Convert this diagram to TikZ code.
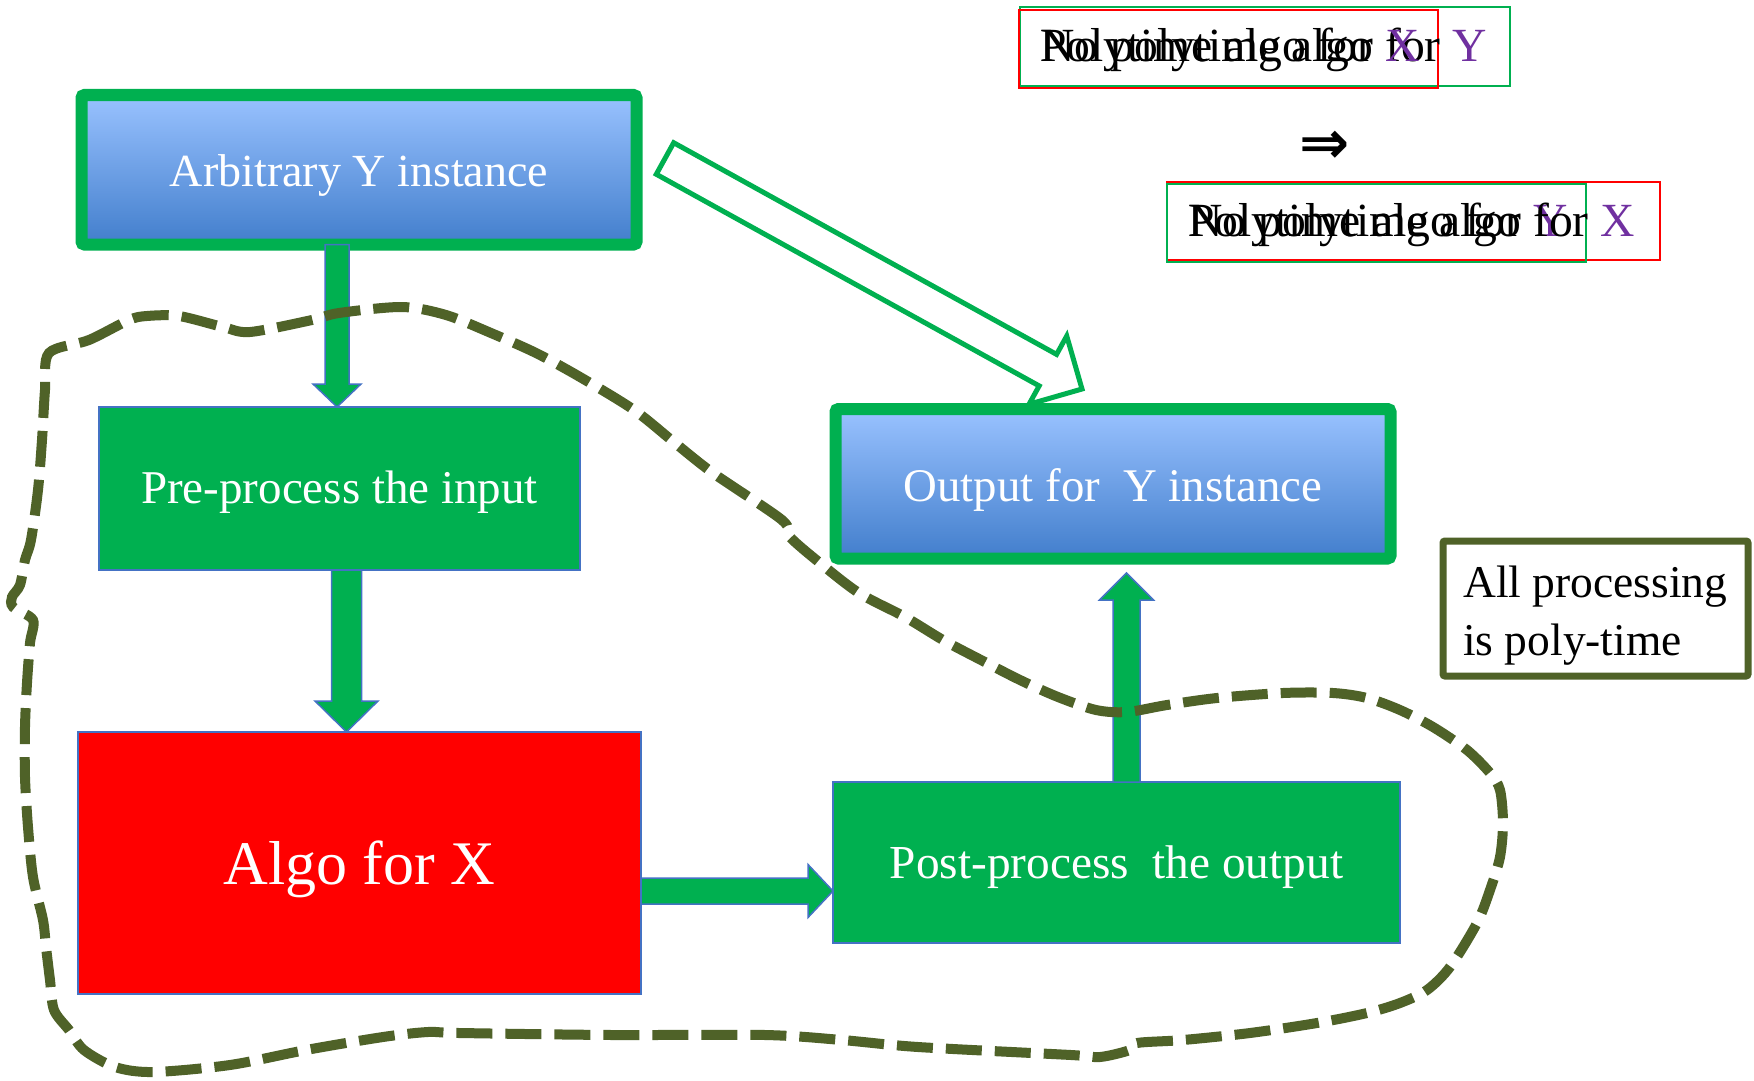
\documentclass[tikz,border=0pt]{standalone}
\usepackage{fontspec}
\setmainfont{Liberation Serif}
\newfontfamily\djv{DejaVu Sans}
\usetikzlibrary{calc}
\definecolor{cGrn}{RGB}{0,176,80}
\definecolor{cBlueL}{RGB}{68,114,196}
\definecolor{cOlive}{RGB}{79,98,40}
\definecolor{cPurp}{RGB}{112,48,160}
\definecolor{cGtop}{RGB}{153,194,255}
\definecolor{cGbot}{RGB}{66,126,204}
\newcommand\fsz[1]{\fontsize{#1}{#1}\selectfont}
% block arrow: #1 style, #2 tail, #3 tip, #4 shaft half width, #5 head half width, #6 head length
\newcommand\myblockarrow[6]{%
  \coordinate (bbase) at ($(#3)!#6!(#2)$);
  \draw[#1] ($(#2)!#4!90:(#3)$) -- ($(bbase)!#4!90:(#3)$) -- ($(bbase)!#5!90:(#3)$) -- (#3)
    -- ($(bbase)!#5!-90:(#3)$) -- ($(bbase)!#4!-90:(#3)$) -- ($(#2)!#4!-90:(#3)$) -- cycle;}
\begin{document}
\begin{tikzpicture}[x=1pt,y=-1pt,
  box/.style={inner sep=0pt, outer sep=0pt, anchor=center, font=\fsz{46}, text=white, text depth=0pt},
  gbox/.style={box, fill=cGrn, draw=cBlueL, line width=1.5pt},
  rbox/.style={box, fill=red, draw=cBlueL, line width=1.5pt},
  ybox/.style={box, draw=cGrn, line width=12pt, rounded corners=3pt, top color=cGtop, bottom color=cGbot},
  notebox/.style={inner sep=0pt, outer sep=0pt, draw=cOlive, line width=7pt, rounded corners=2pt, fill=white},
  notetxt/.style={inner sep=0pt, anchor=base west, font=\fsz{45.5}},
  ttext/.style={inner sep=0pt, anchor=base west, font=\fsz{47.6}},
  tbox/.style={inner sep=0pt, outer sep=0pt, line width=2pt},
  blockarrow/.style={fill=cGrn, draw=cBlueL, line width=1.5pt, line join=miter},
  hollowarrow/.style={draw=cGrn, line width=5pt, line join=miter, fill=none},
  blob/.style={draw=cOlive, line width=10pt, dash pattern=on 36pt off 13pt}
]
\useasboundingbox[fill=white] (0,0) rectangle (1754,1081);

% main boxes
\node[ybox, minimum width=555pt, minimum height=149.5pt, text height=32.5pt] (A) at (359,169.75) {Arbitrary Y instance};
\node[ybox, minimum width=555pt, minimum height=149.5pt, text height=34.5pt, font=\fsz{46.8}] (Out) at (1113,483.75) {Output for\ \ Y instance};
\node[gbox, minimum width=481pt, minimum height=163pt, text height=29pt, font=\fsz{47}] (Pre) at (339.5,488.5) {Pre-process the input};
\node[rbox, minimum width=563pt, minimum height=262pt, text height=42pt, font=\fsz{62}] (Algo) at (359.5,863) {Algo for X};
\node[gbox, minimum width=567pt, minimum height=161pt, text height=31pt, font=\fsz{47.3}] (Post) at (1116.5,862.5) {Post-process\ \ the output};

% connectors (block arrows)
\coordinate (a1t) at ($(Pre.north)+(-2.5,0)$);
\coordinate (a1s) at (a1t |- A.south);
\myblockarrow{blockarrow}{a1s}{a1t}{12pt}{24pt}{23pt}
\coordinate (a2s) at ($(Pre.south)+(7,0)$);
\coordinate (a2t) at (a2s |- Algo.north);
\myblockarrow{blockarrow}{a2s}{a2t}{15pt}{31.5pt}{31pt}
\coordinate (a3s) at ($(Algo.east)+(0,28)$);
\coordinate (a3t) at (a3s -| Post.west);
\myblockarrow{blockarrow}{a3s}{a3t}{13pt}{26.5pt}{25pt}
\coordinate (a4s) at ($(Post.north)+(10,0)$);
\coordinate (a4t) at ($(a4s |- Out.south)+(0,14.5)$);
\myblockarrow{blockarrow}{a4s}{a4t}{13.5pt}{27pt}{27pt}
% hollow arrow
\coordinate (h1s) at ($(A.east)+(28.5,-11.25)$);
\coordinate (h1t) at ($(Out.north)+(-31,-20)$);
\myblockarrow{hollowarrow}{h1s}{h1t}{18pt}{39pt}{39pt}

% note box
\node[notebox, minimum width=305pt, minimum height=135pt] (note) at (1595.5,608.5) {};
\node[notetxt] (note1) at (1463,597) {All processing};
\node[notetxt] (note2) at (1463,655) {is poly-time};

% top-right statements
\node[tbox, draw=cGrn, minimum width=490pt, minimum height=79pt] (g1) at (1265,46.5) {};
\node[tbox, draw=red, minimum width=419pt, minimum height=78pt] (r1) at (1228.5,49) {};
\node[ttext] (t1) at (1040,62) {No polytime algo for \textcolor{cPurp}{Y}};
\node[ttext] (t2) at (1040,62) {Polytime algo for \textcolor{cPurp}{X}};
\node[inner sep=0pt, font=\djv\bfseries\fsz{60}] (impl) at (1325,147) {⇒};
\node[tbox, draw=red, minimum width=493pt, minimum height=78pt] (r2) at (1413.5,221) {};
\node[tbox, draw=cGrn, minimum width=419pt, minimum height=78pt] (g2) at (1376.5,223) {};
\node[ttext] (t3) at (1188,236) {Polytime algo for \textcolor{cPurp}{Y}};
\node[ttext] (t4) at (1188,236) {No polytime algo for \textcolor{cPurp}{X}};

% dashed region
\draw[blob] plot[smooth cycle, tension=0.5] coordinates {
(49,353) (89,340) (129,320) (147,316) (179,316) (223,327) (250,332) (312,320) (339,313) (402,307) (446,315) (491,333) (536,353) (580,377) (634,410) (675,443) (713,473) (782,520) (790,537) (820,563) (859,593) (905,617) (943,640) (981,660) (1020,680) (1058,697) (1096,710) (1127,712) (1167,705) (1217,698) (1283,693) (1333,693) (1367,698) (1400,710) (1433,727) (1467,750) (1490,773) (1500,790) (1503,823) (1500,857) (1490,890) (1477,923) (1450,967) (1427,990) (1400,1003) (1367,1013) (1317,1023) (1250,1033) (1183,1040) (1137,1043) (1130,1050) (1100,1057) (1071,1055) (918,1047) (842,1040) (765,1035) (612,1035) (459,1033) (428,1032) (383,1037) (306,1050) (230,1065) (153,1072) (115,1067) (84,1050) (69,1030) (54,1010) (50,980) (46,947) (43,920) (33,877) (28,827) (25,777) (25,727) (27,683) (30,643) (33,620) (13,607) (12,597) (20,585) (25,560) (31,540) (38,490) (42,440) (45,390)};
\end{tikzpicture}
\end{document}
